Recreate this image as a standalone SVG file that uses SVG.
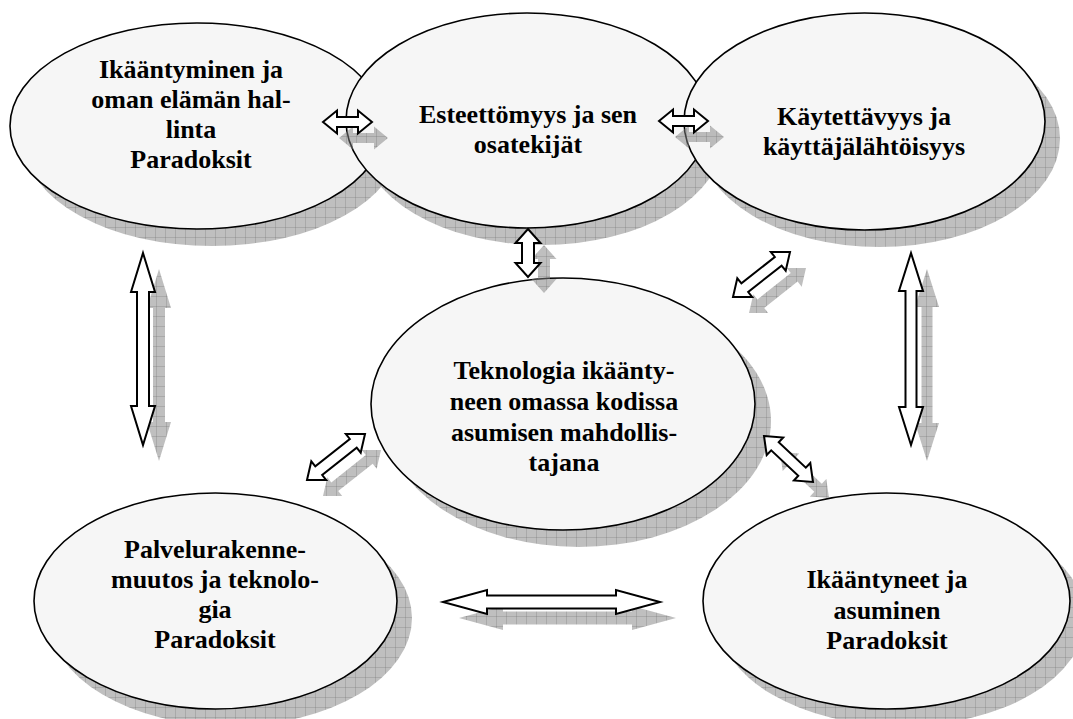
<svg xmlns="http://www.w3.org/2000/svg" width="1073" height="719" viewBox="0 0 1073 719">
<defs>
<pattern id="grid" width="10" height="10" patternUnits="userSpaceOnUse">
<rect width="10" height="10" fill="#808080" fill-opacity="0.5"/>
<path d="M0 0.5H10M0.5 0V10" stroke="#505050" stroke-opacity="0.2" stroke-width="1" fill="none"/>
</pattern>
<style>
.sh{fill:url(#grid);stroke:none}
.el{fill:#f6f6f6;stroke:#000;stroke-width:1.6}
.ar{fill:#fff;stroke:#000;stroke-width:2;stroke-linejoin:miter}
.t{font-family:"Liberation Serif","Times New Roman",serif;font-weight:bold;font-size:26px;fill:#000;text-anchor:middle}
</style>
</defs>
<rect width="1073" height="719" fill="#fff"/>
<g id="node1">
<ellipse class="sh" cx="197" cy="126" rx="187" ry="103" transform="translate(15,17)"/>
<ellipse class="el" cx="197" cy="126" rx="187" ry="103"/>
<text class="t" x="191" y="78">Ikääntyminen ja</text>
<text class="t" x="191" y="108">oman elämän hal-</text>
<text class="t" x="191" y="138">linta</text>
<text class="t" x="191" y="168">Paradoksit</text>
</g>
<g id="node2">
<ellipse class="sh" cx="527" cy="120.5" rx="181" ry="107.5" transform="translate(15,17)"/>
<ellipse class="el" cx="527" cy="120.5" rx="181" ry="107.5"/>
<text class="t" x="528" y="123">Esteettömyys ja sen</text>
<text class="t" x="528" y="153">osatekijät</text>
</g>
<g id="node3">
<ellipse class="sh" cx="864.5" cy="121.5" rx="180.5" ry="108.5" transform="translate(15,17)"/>
<ellipse class="el" cx="864.5" cy="121.5" rx="180.5" ry="108.5"/>
<text class="t" x="864" y="125">Käytettävyys ja</text>
<text class="t" x="864" y="155">käyttäjälähtöisyys</text>
</g>
<g id="node4">
<ellipse class="sh" cx="563" cy="404" rx="192" ry="126" transform="translate(16,17)"/>
<ellipse class="el" cx="563" cy="404" rx="192" ry="126"/>
<text class="t" x="564" y="379">Teknologia ikäänty-</text>
<text class="t" x="564" y="410">neen omassa kodissa</text>
<text class="t" x="564" y="441">asumisen mahdollis-</text>
<text class="t" x="564" y="471">tajana</text>
</g>
<g id="node5">
<ellipse class="sh" cx="215.5" cy="601" rx="181.5" ry="108" transform="translate(15,17)"/>
<ellipse class="el" cx="215.5" cy="601" rx="181.5" ry="108"/>
<text class="t" x="215" y="558">Palvelurakenne-</text>
<text class="t" x="215" y="588">muutos ja teknolo-</text>
<text class="t" x="215" y="618">gia</text>
<text class="t" x="215" y="648">Paradoksit</text>
</g>
<g id="node6">
<ellipse class="sh" cx="886.5" cy="601" rx="183.5" ry="108" transform="translate(15,17)"/>
<ellipse class="el" cx="886.5" cy="601" rx="183.5" ry="108"/>
<text class="t" x="887" y="588">Ikääntyneet ja</text>
<text class="t" x="887" y="619">asuminen</text>
<text class="t" x="887" y="649">Paradoksit</text>
</g>
<g id="connectors">
<g id="arrow-1-2">
<polygon class="sh" transform="translate(16,16)" points="323,122 337,110.5 337,117 358,117 358,110.5 372,122 358,133.5 358,127 337,127 337,133.5"/>
<polygon class="ar" points="323,122 337,110.5 337,117 358,117 358,110.5 372,122 358,133.5 358,127 337,127 337,133.5"/>
</g>
<g id="arrow-2-3">
<polygon class="sh" transform="translate(16,16)" points="659,121 673,109.5 673,116 694,116 694,109.5 708,121 694,132.5 694,126 673,126 673,132.5"/>
<polygon class="ar" points="659,121 673,109.5 673,116 694,116 694,109.5 708,121 694,132.5 694,126 673,126 673,132.5"/>
</g>
<g id="arrow-2-4">
<polygon class="sh" transform="translate(16,16)" points="528,229 540.5,243 534,243 534,263 540.5,263 528,277 515.5,263 522,263 522,243 515.5,243"/>
<polygon class="ar" points="528,229 540.5,243 534,243 534,263 540.5,263 528,277 515.5,263 522,263 522,243 515.5,243"/>
</g>
<g id="arrow-1-5">
<polygon class="sh" transform="translate(16,16)" points="143,253 155,292 149,292 149,406 155,406 143,445 131,406 137,406 137,292 131,292"/>
<polygon class="ar" points="143,253 155,292 149,292 149,406 155,406 143,445 131,406 137,406 137,292 131,292"/>
</g>
<g id="arrow-3-6">
<polygon class="sh" transform="translate(16,16)" points="911,253 923,291 916.5,291 916.5,407 923,407 911,445 899,407 905.5,407 905.5,291 899,291"/>
<polygon class="ar" points="911,253 923,291 916.5,291 916.5,407 923,407 911,445 899,407 905.5,407 905.5,291 899,291"/>
</g>
<g id="arrow-3-4">
<polygon class="sh" transform="translate(16,16)" points="733,297 737.3,278.3 741.4,283.4 774.8,257 770.8,251.9 790,252 785.7,270.7 781.6,265.6 748.2,292 752.2,297.1"/>
<polygon class="ar" points="733,297 737.3,278.3 741.4,283.4 774.8,257 770.8,251.9 790,252 785.7,270.7 781.6,265.6 748.2,292 752.2,297.1"/>
</g>
<g id="arrow-5-4">
<polygon class="sh" transform="translate(16,16)" points="307,480 311.3,461.3 315.3,466.4 349.8,439 345.8,433.9 365,434 360.7,452.7 356.7,447.7 322.2,475 326.2,480.1"/>
<polygon class="ar" points="307,480 311.3,461.3 315.3,466.4 349.8,439 345.8,433.9 365,434 360.7,452.7 356.7,447.7 322.2,475 326.2,480.1"/>
</g>
<g id="arrow-4-6">
<polygon class="sh" transform="translate(16,16)" points="764,436 783.2,437.5 778.7,442.3 805.8,467.7 810.3,463 813,482 793.9,480.5 798.3,475.7 771.2,450.3 766.7,455"/>
<polygon class="ar" points="764,436 783.2,437.5 778.7,442.3 805.8,467.7 810.3,463 813,482 793.9,480.5 798.3,475.7 771.2,450.3 766.7,455"/>
</g>
<g id="arrow-5-6">
<polygon class="sh" transform="translate(16,16)" points="443,602 487,590 487,595.5 616,595.5 616,590 660,602 616,614 616,608.5 487,608.5 487,614"/>
<polygon class="ar" points="443,602 487,590 487,595.5 616,595.5 616,590 660,602 616,614 616,608.5 487,608.5 487,614"/>
</g>
</g>
</svg>
